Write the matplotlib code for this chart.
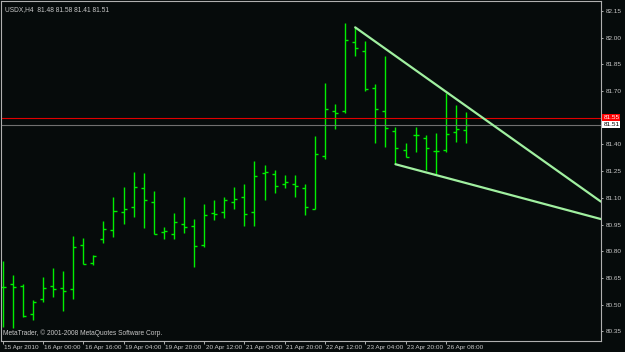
import matplotlib
matplotlib.use('Agg')
import matplotlib.pyplot as plt
from matplotlib.transforms import blended_transform_factory

# USDX H4 bars (open, high, low, close)
opens = [80.602, 80.616, 80.605, 80.448, 80.530, 80.605, 80.594, 80.586, 80.834, 80.736,
         80.871, 80.920, 81.019, 81.047, 81.156, 81.075, 80.908, 80.897, 80.953, 80.944,
         80.837, 81.015, 81.019, 81.079, 81.103, 81.019, 81.238, 81.234, 81.176, 81.176,
         81.157, 81.040, 81.337, 81.588, 81.590, 81.974, 81.925, 81.719, 81.588, 81.478,
         81.369, 81.453, 81.437, 81.365, 81.369, 81.470, 81.48]
highs = [80.748, 80.667, 80.615, 80.526, 80.657, 80.706, 80.688, 80.886, 80.875, 80.779,
         80.970, 81.103, 81.160, 81.247, 81.238, 81.139, 80.935, 81.017, 81.105, 80.980,
         81.066, 81.088, 81.104, 81.160, 81.176, 81.307, 81.287, 81.258, 81.227, 81.227,
         81.176, 81.449, 81.747, 81.626, 82.081, 82.058, 81.983, 81.738, 81.899, 81.500,
         81.407, 81.500, 81.453, 81.466, 81.691, 81.620, 81.58]
lows = [80.376, 80.369, 80.431, 80.414, 80.517, 80.545, 80.466, 80.534, 80.727, 80.725,
        80.845, 80.883, 80.955, 80.994, 80.933, 80.896, 80.867, 80.867, 80.904, 80.713,
        80.824, 80.976, 80.987, 81.036, 80.944, 80.944, 81.087, 81.126, 81.157, 81.105,
        81.006, 81.036, 81.317, 81.489, 81.575, 81.899, 81.701, 81.407, 81.388, 81.289,
        81.328, 81.356, 81.257, 81.229, 81.360, 81.416, 81.41]
closes = [80.602, 80.599, 80.438, 80.513, 80.594, 80.586, 80.579, 80.822, 80.729, 80.774,
          80.925, 81.025, 81.036, 81.163, 81.088, 80.897, 80.916, 80.965, 80.937, 80.827,
          81.004, 81.008, 81.087, 81.096, 81.008, 81.225, 81.246, 81.167, 81.188, 81.167,
          81.047, 81.345, 81.598, 81.579, 81.987, 81.940, 81.710, 81.599, 81.491, 81.382,
          81.331, 81.453, 81.379, 81.363, 81.457, 81.485, 81.51]

# trend lines (bar index, price)
upper_x = [35, 59.4]
upper_y = [82.058, 81.079]
lower_x = [39, 59.4]
lower_y = [81.289, 80.981]

level_red = 81.55
level_bid = 81.51

yticks = [82.15, 82.00, 81.85, 81.70, 81.40, 81.25, 81.10, 80.95, 80.80, 80.65, 80.50, 80.35]
xtick_pos = [0, 4, 8, 12, 16, 20, 24, 28, 32, 36, 40, 44]
xtick_lbl = ['15 Apr 2010', '16 Apr 00:00', '16 Apr 16:00', '19 Apr 04:00', '19 Apr 20:00',
             '20 Apr 12:00', '21 Apr 04:00', '21 Apr 20:00', '22 Apr 12:00', '23 Apr 04:00',
             '23 Apr 20:00', '26 Apr 08:00']

bg = '#060b0b'
fg = '#c8c8c8'
bar_c = '#00ee00'
plt.rcParams['font.family'] = ['Liberation Sans', 'DejaVu Sans']

fig = plt.figure(figsize=(6.25, 3.52), dpi=100, facecolor=bg)
ax = fig.add_axes([1 / 625, 11 / 352, 600 / 625, 340 / 352], facecolor=bg)

x = list(range(len(opens)))
ax.vlines(x, lows, highs, color=bar_c, linewidth=1)
ax.hlines(opens, [i - 0.3 for i in x], x, color=bar_c, linewidth=1)
ax.hlines(closes, x, [i + 0.3 for i in x], color=bar_c, linewidth=1)

ax.axhline(level_red, color='#e00000', linewidth=0.8)
ax.axhline(level_bid, color='#707070', linewidth=0.8)

ax.plot(upper_x, upper_y, color='#a0f0a0', linewidth=1.6, solid_capstyle='round')
ax.plot(lower_x, lower_y, color='#a0f0a0', linewidth=1.6, solid_capstyle='round')

ax.set_xlim(-0.17, 59.41)
ax.set_ylim(80.296, 82.206)

for s in ax.spines.values():
    s.set_color('#b0b0b0')
    s.set_linewidth(0.8)

ax.yaxis.tick_right()
ax.set_yticks(yticks, [f'{v:.2f}' for v in yticks])
ax.tick_params(axis='y', colors=fg, labelsize=4.6, length=1.5, width=0.6, pad=2)
ax.set_xticks(xtick_pos, xtick_lbl)
ax.tick_params(axis='x', colors=fg, labelsize=4.6, length=1.8, width=0.6, pad=1)
for lbl in ax.get_xticklabels():
    lbl.set_horizontalalignment('left')
    lbl.set_x(0)
from matplotlib.transforms import ScaledTranslation
off = ScaledTranslation(1.5 / 100, 0, fig.dpi_scale_trans)
for lbl in ax.get_xticklabels():
    lbl.set_transform(lbl.get_transform() + off)

tr = blended_transform_factory(ax.transAxes, ax.transData)
ax.text(1.004, level_red, '81.55', transform=tr, fontsize=4.6, color='white', va='center',
        ha='left', bbox=dict(boxstyle='square,pad=0.15', fc='#ff0000', ec='none'))
ax.text(1.004, level_bid, '81.51', transform=tr, fontsize=4.6, color='black', va='center',
        ha='left', bbox=dict(boxstyle='square,pad=0.15', fc='white', ec='none'))

ax.text(0.007, 0.985, 'USDX,H4  81.48 81.58 81.41 81.51', transform=ax.transAxes,
        fontsize=4.8, color=fg, va='top', ha='left')
ax.text(0.004, 0.012, 'MetaTrader, \u00a9 2001-2008 MetaQuotes Software Corp.', transform=ax.transAxes,
        fontsize=4.8, color=fg, va='bottom', ha='left')

fig.savefig('out.png', dpi=100, facecolor=bg)
